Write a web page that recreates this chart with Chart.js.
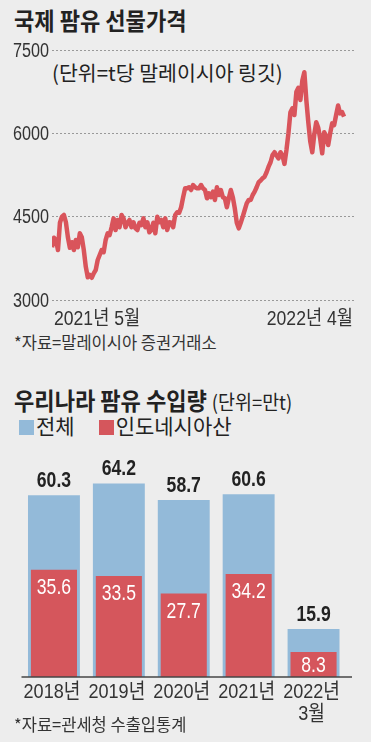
<!DOCTYPE html>
<html>
<head>
<meta charset="utf-8">
<script src="https://cdn.jsdelivr.net/npm/chart.js@4/dist/chart.umd.min.js"></script>
<style>
  body { margin: 0; background: #ededed; width: 371px; height: 742px; overflow: hidden; position: relative;
         font-family: "Noto Sans CJK KR", sans-serif; color: #222; }
  .t { position: absolute; white-space: nowrap; transform-origin: 0 0; }
  .box { position: absolute; left: 0; width: 371px; }
  .sq { display: inline-block; width: 15px; height: 15px; vertical-align: -1px; margin-right: 2px; }
</style>
</head>
<body>
<div class="t" style="left:14px;top:4px;font-size:24px;font-weight:700;line-height:32px;transform:scaleX(0.92)">국제 팜유 선물가격</div>
<div class="t" style="left:52px;top:58px;font-size:20.5px;line-height:28px">(단위=t당 말레이시아 링깃)</div>
<div class="box" style="top:0;height:330px"><canvas id="priceChart"></canvas></div>
<div class="t" style="left:14px;top:330px;font-size:16.5px;line-height:24px;color:#333">*자료=말레이시아 증권거래소</div>

<div class="t" style="left:14px;top:384px;font-size:24px;font-weight:700;line-height:32px;transform:scaleX(0.92)">우리나라 팜유 수입량 <span style="font-weight:400;font-size:20px">(단위=만t)</span></div>
<div class="t" id="legend" style="left:19px;top:410px;font-size:21px;line-height:30px"></div>
<div class="box" style="top:440px;height:302px"><canvas id="importChart"></canvas></div>
<div class="t" style="left:14px;top:712px;font-size:16.5px;line-height:24px;color:#333">*자료=관세청 수출입통계</div>

<script>
const numFont = '"Liberation Sans", "Noto Sans CJK KR", sans-serif';

// palm oil futures, ringgit per tonne, May 2021 - Apr 2022
const priceTicks = [3000, 4500, 6000, 7500];
const priceDateLabels = ["2021년 5월", "2022년 4월"];
const prices = [
  3950, 4120, 4080, 3900, 4390, 4500, 4530, 4400, 4130, 3940, 4040, 3900, 4080, 3950, 4200, 4130, 3900, 3600, 3410, 3450,
  3400, 3480, 3540, 3720, 3810, 3900, 3860, 4080, 4200, 4170, 4310, 4470, 4260, 4440, 4310, 4530, 4470, 4310, 4390, 4440,
  4310, 4400, 4290, 4260, 4390, 4350, 4470, 4310, 4400, 4220,
  4260, 4390, 4200, 4500, 4400, 4440, 4310, 4470, 4260, 4400, 4390, 4310, 4530, 4580, 4570, 4670, 4850, 5010, 5010, 5030,
  4980, 5070, 5030, 5010, 5010, 5070, 5010, 4980, 4830, 4920, 4850, 4950, 4800, 5030, 4890, 4980, 4850, 4830, 4670, 4830,
  4980, 4850, 4650, 4390, 4290, 4390, 4500, 4620, 4740, 4800, 4800, 4890, 4950, 5030, 5120,
  5150, 5190, 5220, 5300, 5400, 5480, 5610, 5660, 5600, 5550, 5660, 5600, 5450, 5700, 6000, 6380, 6450, 6330, 6750, 6820,
  6600, 6950, 7100, 6600, 6200, 5850, 5660, 5980, 6200, 6100, 5900, 5640, 6020, 5950, 5790, 6000, 6180, 6150, 6330, 6500,
  6360, 6380, 6300
];

// palm oil imports, 10,000 t
const importYears = ["2018년", "2019년", "2020년", "2021년", ["2022년", "3월"]];
const importTotal = [60.3, 64.2, 58.7, 60.6, 15.9];
const importIndonesia = [35.6, 33.5, 27.7, 34.2, 8.3];
const seriesNames = ["전체", "인도네시아산"];
const seriesColors = ["#93bad9", "#d5565c"];

// narrow text: the original uses a condensed face
function narrowText(ctx, text, x, y, align, sx) {
  ctx.save();
  ctx.translate(x, y);
  ctx.scale(sx, 1);
  ctx.textAlign = align;
  ctx.fillText(text, 0, 0);
  ctx.restore();
}

const priceLabels = {
  id: "priceLabels",
  afterDraw(chart) {
    const { ctx, chartArea } = chart;
    const yScale = chart.scales.y;
    ctx.save();
    ctx.fillStyle = "#333";
    ctx.font = "20px " + numFont;
    ctx.textBaseline = "middle";
    priceTicks.forEach(v => {
      narrowText(ctx, String(v), chartArea.left - 3, yScale.getPixelForValue(v) + 1, "right", 0.81);
    });
    narrowText(ctx, priceDateLabels[0], chartArea.left + 2, chartArea.bottom + 19, "left", 0.88);
    narrowText(ctx, priceDateLabels[1], chartArea.right - 2, chartArea.bottom + 19, "right", 0.88);
    ctx.restore();
  }
};

new Chart("priceChart", {
  type: "line",
  data: {
    datasets: [{
      data: prices.map((v, i) => ({ x: i, y: v })),
      borderColor: "#d9545b",
      borderWidth: 4.5,
      borderJoinStyle: "round",
      pointRadius: 0,
      tension: 0
    }]
  },
  options: {
    responsive: true,
    maintainAspectRatio: false,
    animation: false,
    layout: { padding: { top: 50, right: 16, bottom: 30, left: 0 } },
    plugins: { legend: { display: false }, tooltip: { enabled: false } },
    scales: {
      x: { type: "linear", display: false, min: 0, max: 152.5 },
      y: {
        min: 3000, max: 7500,
        afterBuildTicks: s => { s.ticks = priceTicks.map(v => ({ value: v })); },
        afterFit: s => { s.width = 52; },
        grid: { color: "#999", lineWidth: 1, drawTicks: false },
        border: { display: false, dash: [2, 2] },
        ticks: { display: false }
      }
    }
  },
  plugins: [priceLabels]
});

document.getElementById("legend").innerHTML = seriesNames.map((n, i) =>
  `<span style="margin-right:${i ? 0 : 24}px"><span class="sq" style="background:${seriesColors[i]}"></span>${n}</span>`
).join("");

const barLabels = {
  id: "barLabels",
  afterDatasetsDraw(chart) {
    const { ctx, chartArea } = chart;
    const xScale = chart.scales.x;
    ctx.save();
    ctx.strokeStyle = "#444";
    ctx.lineWidth = 1.5;
    ctx.beginPath();
    ctx.moveTo(chartArea.left, chartArea.bottom);
    ctx.lineTo(chartArea.right + 6, chartArea.bottom);
    ctx.stroke();

    ctx.font = "bold 22px " + numFont;
    ctx.fillStyle = "#222";
    ctx.textBaseline = "alphabetic";
    chart.getDatasetMeta(0).data.forEach((bar, i) => {
      narrowText(ctx, importTotal[i].toFixed(1), bar.x, bar.y - 8, "center", 0.8);
    });
    ctx.fillStyle = "#fff";
    ctx.font = "22px " + numFont;
    ctx.textBaseline = "middle";
    chart.getDatasetMeta(1).data.forEach((bar, i) => {
      const y = Math.min(bar.y + 18, (bar.y + bar.base) / 2 + 1);
      narrowText(ctx, importIndonesia[i].toFixed(1), bar.x, y, "center", 0.8);
    });

    ctx.fillStyle = "#333";
    ctx.font = "21px " + numFont;
    importYears.forEach((lab, i) => {
      const lines = Array.isArray(lab) ? lab : [lab];
      lines.forEach((line, k) => {
        narrowText(ctx, line, xScale.getPixelForValue(i) - 2, chartArea.bottom + 15 + k * 22, "center", 0.86);
      });
    });
    ctx.restore();
  }
};

new Chart("importChart", {
  type: "bar",
  data: {
    labels: importYears,
    datasets: [
      { label: seriesNames[0], data: importTotal, backgroundColor: seriesColors[0],
        grouped: false, order: 2, categoryPercentage: 1, barPercentage: 0.8 },
      { label: seriesNames[1], data: importIndonesia, backgroundColor: seriesColors[1],
        grouped: false, order: 1, categoryPercentage: 1, barPercentage: 0.71 }
    ]
  },
  options: {
    responsive: true,
    maintainAspectRatio: false,
    animation: false,
    layout: { padding: { top: 26, right: 25, bottom: 0, left: 21.5 } },
    plugins: { legend: { display: false }, tooltip: { enabled: false } },
    scales: {
      x: {
        grid: { display: false, drawTicks: false },
        border: { display: false },
        afterFit: s => { s.height = 65; },
        ticks: { display: false }
      },
      y: { display: false, min: 0, max: 70 }
    }
  },
  plugins: [barLabels]
});
</script>
</body>
</html>
